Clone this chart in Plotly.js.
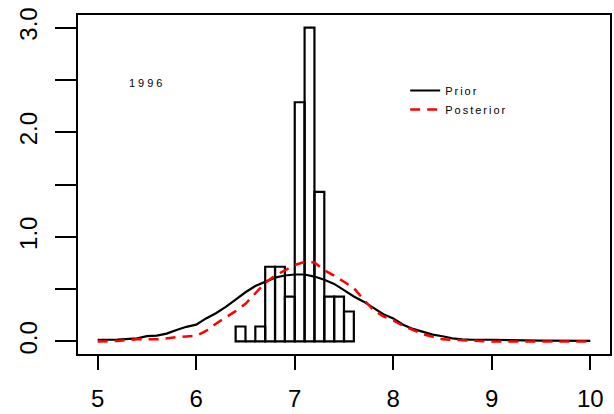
<!DOCTYPE html>
<html>
<head>
<meta charset="utf-8">
<script src="https://cdn.plot.ly/plotly-3.0.1.min.js"></script>
<style>
  html, body { margin: 0; padding: 0; background: #fff; }
  #chart { width: 614px; height: 414px; }
  .legendtext { letter-spacing: 2px; }
  .annotation-text { letter-spacing: 3px; }
</style>
</head>
<body>
<div id="chart"></div>
<script>
// Histogram bins (left edges, width 0.1) and density heights
const binLeft = [6.4, 6.5, 6.6, 6.7, 6.8, 6.9, 7.0, 7.1, 7.2, 7.3, 7.4, 7.5];
const binWidth = 0.1;
const binDensity = [0.143, 0, 0.143, 0.714, 0.714, 0.429, 2.286, 3.0, 1.429, 0.429, 0.429, 0.286];

// Prior density curve
const priorX = [5.0, 5.2, 5.4, 5.5, 5.6, 5.7, 5.8, 5.9, 6.0, 6.1, 6.2, 6.3, 6.4, 6.5, 6.6, 6.7, 6.8, 6.9, 7.0, 7.1, 7.2, 7.3, 7.4, 7.5, 7.6, 7.7, 7.8, 7.9, 8.0, 8.1, 8.2, 8.3, 8.4, 8.5, 8.6, 8.7, 8.8, 9.0, 9.2, 9.5, 10.0];
const priorY = [0.016, 0.018, 0.03, 0.05, 0.055, 0.075, 0.11, 0.14, 0.16, 0.22, 0.27, 0.33, 0.40, 0.47, 0.53, 0.57, 0.61, 0.63, 0.64, 0.64, 0.62, 0.59, 0.55, 0.49, 0.43, 0.38, 0.32, 0.26, 0.22, 0.16, 0.12, 0.09, 0.065, 0.05, 0.03, 0.02, 0.016, 0.016, 0.012, 0.008, 0.005];

// Posterior density curve
const postX = [5.0, 5.2, 5.4, 5.6, 5.8, 6.0, 6.1, 6.2, 6.3, 6.4, 6.5, 6.6, 6.7, 6.8, 6.9, 7.0, 7.1, 7.2, 7.3, 7.4, 7.5, 7.6, 7.7, 7.8, 7.9, 8.0, 8.1, 8.2, 8.3, 8.4, 8.5, 8.6, 8.8, 9.0, 9.5, 10.0];
const postY = [0.0, 0.005, 0.02, 0.02, 0.04, 0.055, 0.10, 0.17, 0.23, 0.29, 0.36, 0.46, 0.56, 0.63, 0.68, 0.73, 0.76, 0.755, 0.68, 0.63, 0.57, 0.51, 0.40, 0.30, 0.24, 0.20, 0.15, 0.11, 0.07, 0.045, 0.02, 0.016, 0.01, 0.0, 0.0, 0.0];

const xTickVals = [5, 6, 7, 8, 9, 10];
const xTickText = ["5", "6", "7", "8", "9", "10"];
const yTickVals = [0, 0.5, 1.0, 1.5, 2.0, 2.5, 3.0];
const yTickText = ["0.0", "", "1.0", "", "2.0", "", "3.0"];
const seriesNames = ["Prior", "Posterior"];
const yearLabel = "1996";

const FONT = "Liberation Sans, Arial, Helvetica, sans-serif";

const traces = [
  {
    type: "bar",
    x: binLeft.map(v => v + binWidth / 2),
    y: binDensity,
    width: binLeft.map(() => binWidth),
    marker: { color: "rgba(0,0,0,0)", line: { color: "#000", width: 2.2 } },
    showlegend: false,
    hoverinfo: "skip"
  },
  {
    type: "scatter", mode: "lines",
    x: priorX, y: priorY, name: seriesNames[0],
    line: { color: "#000", width: 2.2, shape: "linear" }
  },
  {
    type: "scatter", mode: "lines",
    x: postX, y: postY, name: seriesNames[1],
    line: { color: "#ff0000", width: 2.5, dash: "10px,7px" }
  }
];

const layout = {
  width: 614, height: 414,
  margin: { l: 78, r: 4, t: 15, b: 60, pad: 0 },
  paper_bgcolor: "#fff", plot_bgcolor: "#fff",
  showlegend: true,
  bargap: 0,
  font: { family: FONT, color: "#000" },
  xaxis: {
    range: [4.8, 10.2],
    tickmode: "array", tickvals: xTickVals, ticktext: xTickText,
    ticks: "outside", ticklen: 14, tickwidth: 2, tickcolor: "#000",
    showline: true, linewidth: 2.2, linecolor: "#000", mirror: true,
    showgrid: false, zeroline: false,
    tickfont: { size: 24, family: FONT, color: "#000" },
    ticklabelstandoff: 8
  },
  yaxis: {
    range: [-0.12, 3.12],
    tickmode: "array", tickvals: yTickVals, ticktext: yTickText,
    ticks: "outside", ticklen: 21, tickwidth: 2, tickcolor: "#000",
    tickangle: -90,
    showline: true, linewidth: 2.2, linecolor: "#000", mirror: true,
    showgrid: false, zeroline: false,
    tickfont: { size: 24, family: FONT, color: "#000" },
    ticklabelstandoff: 8
  },
  legend: {
    x: 0.615, y: 0.82, xanchor: "left", yanchor: "top",
    bgcolor: "rgba(0,0,0,0)", borderwidth: 0,
    font: { size: 11, family: FONT, color: "#000" },
    tracegroupgap: 0
  },
  annotations: [
    {
      text: yearLabel, x: 5.5, y: 2.47, xref: "x", yref: "y",
      showarrow: false, font: { size: 11, family: FONT, color: "#000" }
    }
  ]
};

Plotly.newPlot("chart", traces, layout, { displayModeBar: false, staticPlot: true });
</script>
</body>
</html>
